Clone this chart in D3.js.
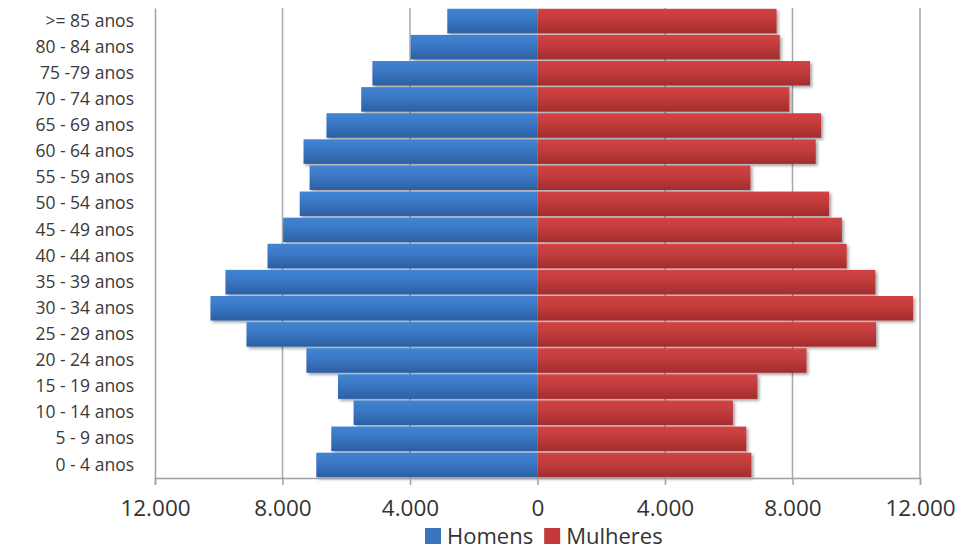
<!DOCTYPE html>
<html>
<head>
<meta charset="utf-8">
<script src="https://cdn.jsdelivr.net/npm/d3@7"></script>
<style>
  html, body { margin: 0; padding: 0; background: #fff; }
  svg { display: block; font-family: "Open Sans", "DejaVu Sans", sans-serif; }
</style>
</head>
<body>
<svg id="chart" width="963" height="549"></svg>
<script>
// Faixas etárias, da mais jovem para a mais velha
const faixas = ["0 - 4 anos", "5 - 9 anos", "10 - 14 anos", "15 - 19 anos", "20 - 24 anos",
  "25 - 29 anos", "30 - 34 anos", "35 - 39 anos", "40 - 44 anos", "45 - 49 anos",
  "50 - 54 anos", "55 - 59 anos", "60 - 64 anos", "65 - 69 anos", "70 - 74 anos",
  "75 -79 anos", "80 - 84 anos", ">= 85 anos"];
const homens = [6940, 6470, 5770, 6260, 7250, 9130, 10260, 9790, 8470, 7980,
  7460, 7150, 7340, 6620, 5530, 5180, 3980, 2830];
const mulheres = [6710, 6550, 6130, 6900, 8440, 10620, 11780, 10600, 9700, 9550,
  9150, 6680, 8730, 8900, 7900, 8550, 7600, 7500];
const xTicks = [-12000, -8000, -4000, 0, 4000, 8000, 12000];
const gridValues = [-8000, -4000, 4000, 8000, 12000];
const series = [
  { name: "Homens", values: homens, sign: -1, top: "#4184d4", bottom: "#2c5fa3", key: "#3a74be" },
  { name: "Mulheres", values: mulheres, sign: 1, top: "#d24343", bottom: "#a22d2d", key: "#c23a3a" }
];

const svg = d3.select("#chart");
const plotLeft = 155, plotRight = 920, plotTop = 8, plotBottom = 478;

const x = d3.scaleLinear().domain([-12000, 12000]).range([plotLeft, plotRight]);
const y = d3.scaleBand().domain(faixas.slice().reverse()).range([plotTop, plotBottom])
  .paddingInner(0.06).paddingOuter(0.03);

const ptBR = d3.formatLocale({ decimal: ",", thousands: ".", grouping: [3], currency: ["R$", ""] });
const fmt = ptBR.format(",");

// gradients and shadow for the bars
const defs = svg.append("defs");
series.forEach((s, i) => {
  const g = defs.append("linearGradient").attr("id", "grad" + i)
    .attr("x1", 0).attr("y1", 0).attr("x2", 0).attr("y2", 1);
  g.append("stop").attr("offset", "0%").attr("stop-color", s.top);
  g.append("stop").attr("offset", "45%").attr("stop-color", d3.interpolateRgb(s.top, s.bottom)(0.35));
  g.append("stop").attr("offset", "100%").attr("stop-color", s.bottom);
});
const sh = defs.append("filter").attr("id", "shadow")
  .attr("x", "-5%").attr("y", "-20%").attr("width", "110%").attr("height", "160%");
sh.append("feDropShadow").attr("dx", 2).attr("dy", 2).attr("stdDeviation", 1.5)
  .attr("flood-color", "#000").attr("flood-opacity", 0.35);

// gridlines
svg.append("g").selectAll("line").data(gridValues).join("line")
  .attr("x1", d => x(d)).attr("x2", d => x(d))
  .attr("y1", plotTop).attr("y2", plotBottom)
  .attr("stroke", "#a8a8a8").attr("stroke-width", 1.5);

// bars
series.forEach((s, i) => {
  svg.append("g").attr("filter", "url(#shadow)")
    .selectAll("rect").data(faixas.map((f, k) => ({ f, v: s.values[k] * s.sign })))
    .join("rect")
    .attr("x", d => Math.min(x(0), x(d.v)))
    .attr("width", d => Math.abs(x(d.v) - x(0)))
    .attr("y", d => y(d.f))
    .attr("height", y.bandwidth())
    .attr("fill", `url(#grad${i})`);
});

// axes
const xAxis = d3.axisBottom(x).tickValues(xTicks).tickSize(7).tickPadding(15)
  .tickFormat(d => fmt(Math.abs(d)));
const gx = svg.append("g").attr("transform", `translate(0,${plotBottom})`).call(xAxis);
gx.select(".domain").attr("stroke", "#a0a0a0").attr("stroke-width", 1.5);
gx.selectAll(".tick line").attr("stroke", "#a0a0a0").attr("stroke-width", 1.5);
gx.selectAll(".tick text").attr("font-size", 22.5).attr("fill", "#333")
  .attr("font-family", "'Open Sans', sans-serif");

const yAxis = d3.axisLeft(y).tickSize(0).tickPadding(21);
const gy = svg.append("g").attr("transform", `translate(${plotLeft},0)`).call(yAxis);
gy.select(".domain").attr("stroke", "#a0a0a0").attr("stroke-width", 1.5);
gy.selectAll(".tick text").attr("font-size", 17.5).attr("fill", "#3a3a3a")
  .attr("font-family", "'Open Sans', sans-serif");

// legend
const legend = svg.append("g").attr("transform", "translate(425,536)");
let lx = 0;
series.forEach(s => {
  const item = legend.append("g").attr("transform", `translate(${lx},0)`);
  item.append("rect").attr("x", 0).attr("y", -8).attr("width", 16).attr("height", 16).attr("fill", s.key);
  const t = item.append("text").attr("x", 22).attr("y", 0).attr("dy", "0.35em")
    .attr("font-size", 22).attr("fill", "#333").text(s.name);
  lx += 22 + t.node().getComputedTextLength() + 11;
});
</script>
</body>
</html>
